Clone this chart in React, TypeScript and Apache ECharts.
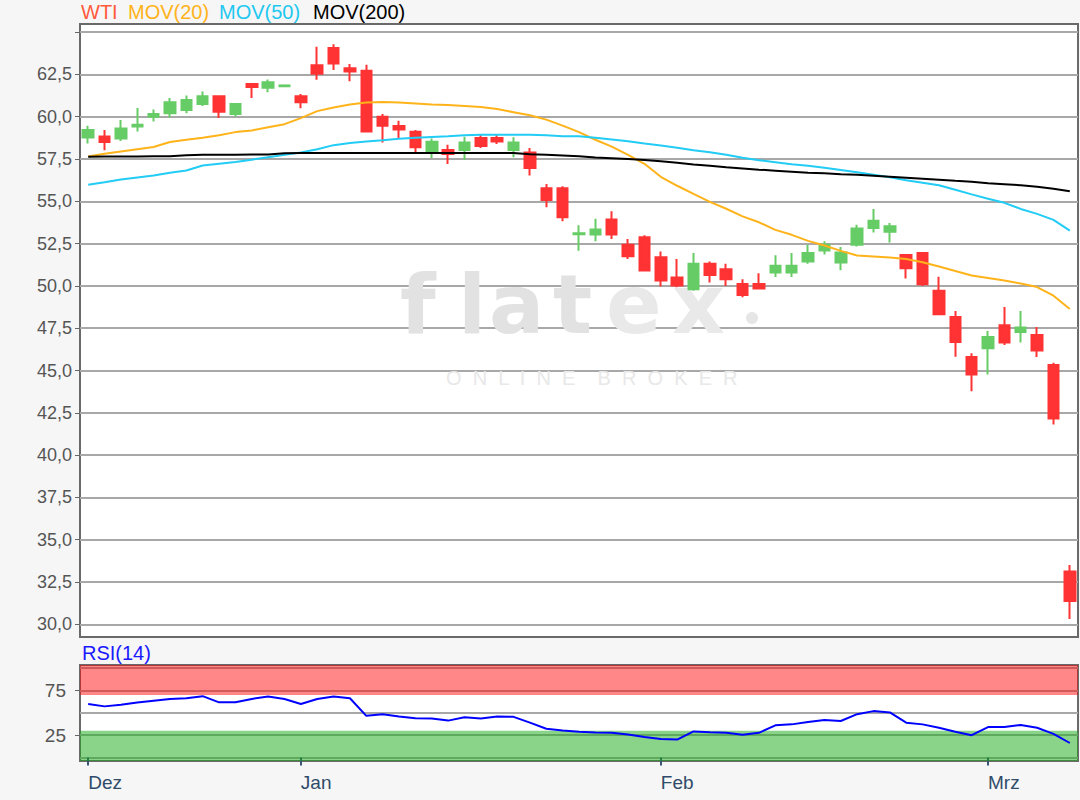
import React, { useEffect, useRef } from "react";
import * as echarts from "echarts";

// ---- categories (trading days) ----
const dates = [
  "16.12.", "17.12.", "18.12.", "19.12.", "20.12.", "23.12.", "24.12.", "25.12.", "26.12.", "27.12.", "30.12.", "31.12.",
  "01.01.", "02.01.", "03.01.", "06.01.", "07.01.", "08.01.", "09.01.", "10.01.", "13.01.", "14.01.", "15.01.", "16.01.",
  "17.01.", "20.01.", "21.01.", "22.01.", "23.01.", "24.01.", "27.01.", "28.01.", "29.01.", "30.01.", "31.01.",
  "03.02.", "04.02.", "05.02.", "06.02.", "07.02.", "10.02.", "11.02.", "12.02.", "13.02.", "14.02.", "17.02.", "18.02.",
  "19.02.", "20.02.", "21.02.", "24.02.", "25.02.", "26.02.", "27.02.", "28.02.",
  "02.03.", "03.03.", "04.03.", "05.03.", "06.03.", "09.03.",
];
const monthTickIndex = [0, 13, 35, 55];
const monthNames = ["Dez", "Jan", "Feb", "Mrz"];

// ---- WTI OHLC ----
const opens = [
  58.77, 58.83, 58.71, 59.42, 60.0, 60.2, 60.4, 60.75, 61.21, 60.16, 61.94, 61.71, 61.8, 61.21, 63.04, 64.06, 62.87, 62.72,
  60.0, 59.45, 59.11, 57.93, 58.03, 58.03, 58.74, 58.74, 58.03, 57.89, 55.77, 55.77, 53.05, 53.04, 53.93, 52.44, 52.88,
  51.69, 50.5, 49.8, 51.31, 50.99, 50.12, 50.12, 50.79, 50.79, 51.45, 52.1, 51.39, 52.43, 53.42, 53.2, 51.82, 51.94, 49.71,
  48.17, 45.8, 46.31, 47.67, 47.28, 47.1, 45.32, 33.12,
];
const closes = [
  59.21, 58.51, 59.31, 59.52, 60.16, 60.85, 60.99, 61.21, 60.3, 60.75, 61.75, 62.04, 61.85, 60.85, 62.54, 63.15, 62.68, 59.13,
  59.47, 59.25, 58.19, 58.52, 57.8, 58.48, 58.27, 58.54, 58.48, 56.97, 55.08, 54.06, 53.12, 53.33, 53.04, 51.75, 50.91,
  50.32, 50.02, 51.31, 50.65, 50.4, 49.46, 49.84, 51.19, 51.19, 51.94, 52.44, 51.98, 53.4, 53.85, 53.52, 51.05, 50.1, 48.33,
  46.69, 44.77, 46.98, 46.65, 47.54, 46.19, 42.16, 31.38,
];
const lows = [
  58.41, 58.02, 58.57, 59.13, 59.72, 59.96, 60.2, 60.63, 59.92, 60.0, 61.11, 61.45, 61.8, 60.5, 62.18, 62.76, 62.09, 59.13,
  58.48, 58.74, 57.89, 57.56, 57.2, 57.44, 58.15, 58.39, 57.6, 56.52, 54.65, 53.82, 52.08, 52.64, 52.78, 51.59, 50.91,
  49.96, 49.92, 49.72, 50.2, 50.0, 49.33, 49.84, 50.52, 50.52, 51.31, 51.85, 50.93, 52.33, 53.16, 52.57, 50.44, 50.0, 48.33,
  45.82, 43.78, 44.77, 46.51, 46.65, 45.8, 41.81, 30.32,
];
const highs = [
  59.46, 59.21, 59.8, 60.52, 60.42, 61.11, 61.25, 61.49, 61.21, 60.75, 61.94, 62.2, 61.85, 61.35, 64.13, 64.29, 63.11, 63.07,
  60.16, 59.76, 59.21, 58.72, 58.35, 58.82, 58.98, 58.98, 58.78, 58.15, 56.02, 55.89, 53.59, 53.97, 54.42, 52.78, 53.0,
  52.04, 51.59, 51.94, 51.45, 51.31, 50.4, 50.75, 51.81, 51.94, 52.44, 52.64, 52.3, 53.62, 54.55, 53.72, 51.82, 51.94, 50.54,
  48.52, 46.02, 47.34, 48.76, 48.52, 47.57, 45.46, 33.51,
];

// ---- moving averages ----
const mov20 = [
  57.65, 57.81, 57.95, 58.08, 58.21, 58.51, 58.64, 58.76, 58.9, 59.09, 59.19, 59.38, 59.56, 59.92, 60.33, 60.54, 60.72, 60.84,
  60.87, 60.84, 60.78, 60.72, 60.69, 60.63, 60.57, 60.45, 60.27, 60.09, 59.83, 59.47, 59.09, 58.64, 58.23, 57.75, 57.22,
  56.45, 55.92, 55.44, 54.97, 54.56, 54.11, 53.76, 53.31, 53.02, 52.66, 52.39, 52.07, 51.8, 51.74, 51.68, 51.59, 51.4, 51.15,
  50.88, 50.62, 50.47, 50.32, 50.14, 49.93, 49.42, 48.63,
];
const mov50 = [
  55.98, 56.13, 56.29, 56.41, 56.53, 56.69, 56.82, 57.12, 57.22, 57.32, 57.46, 57.61, 57.75, 57.88, 58.08, 58.32, 58.44, 58.54,
  58.61, 58.7, 58.75, 58.8, 58.85, 58.91, 58.93, 58.94, 58.94, 58.94, 58.91, 58.85, 58.85, 58.76, 58.66, 58.55, 58.42,
  58.3, 58.17, 58.02, 57.9, 57.75, 57.58, 57.43, 57.31, 57.19, 57.1, 56.98, 56.85, 56.72, 56.57, 56.42, 56.24, 56.1, 55.95,
  55.68, 55.41, 55.15, 54.91, 54.55, 54.26, 53.9, 53.27,
];
const mov200 = [
  57.64, 57.65, 57.65, 57.65, 57.66, 57.66, 57.72, 57.75, 57.75, 57.75, 57.76, 57.76, 57.84, 57.86, 57.86, 57.86, 57.86, 57.86,
  57.86, 57.86, 57.86, 57.86, 57.86, 57.86, 57.86, 57.86, 57.85, 57.78, 57.75, 57.71, 57.67, 57.59, 57.55, 57.5, 57.44,
  57.37, 57.28, 57.18, 57.1, 57.01, 56.94, 56.87, 56.81, 56.75, 56.69, 56.66, 56.6, 56.57, 56.51, 56.45, 56.39, 56.33, 56.27,
  56.21, 56.16, 56.07, 56.01, 55.95, 55.86, 55.74, 55.59,
];

// ---- RSI(14) ----
const rsi14 = [
  59.8, 57.2, 59.1, 61.4, 63.6, 65.5, 66.3, 68.6, 61.7, 61.7, 65.5, 68.2, 65.5, 59.8, 65.5, 68.2, 66.3, 46.6, 48.5, 45.8,
  43.9, 43.6, 41.3, 45.1, 43.6, 45.8, 45.5, 39.0, 32.2, 30.3, 28.8, 28.0, 27.7, 25.8, 23.1, 20.8, 20.1, 29.2, 28.4, 27.7,
  25.4, 27.7, 36.0, 37.1, 39.8, 42.0, 40.9, 48.5, 51.9, 50.4, 39.0, 37.1, 33.3, 28.8, 25.0, 34.1, 34.1, 36.4, 33.3, 26.5,
  16.3,
];

// ---- axis ticks ----
const priceGridValues = [30, 32.5, 35, 37.5, 40, 42.5, 45, 47.5, 50, 52.5, 55, 57.5, 60, 62.5, 65];
const priceLabelValues = [30, 32.5, 35, 37.5, 40, 42.5, 45, 47.5, 50, 52.5, 55, 57.5, 60, 62.5];
const PRICE_MIN = 29.25;
const PRICE_MAX = 65.48;
const rsiGridValues = [0, 25, 50, 75, 100];
const rsiLabelValues = [25, 75];
const RSI_MIN = -3.8;
const RSI_MAX = 103.4;
const RSI_OVERBOUGHT = 70;
const RSI_OVERSOLD = 30;

const FONT = '"Liberation Sans", Arial, Helvetica, sans-serif';
const WM_FONT = 'bold 82px "DejaVu Sans", sans-serif';

export default function App() {
  const ref = useRef<HTMLDivElement>(null);

  useEffect(() => {
    if (!ref.current) return;
    const chart = echarts.init(ref.current, undefined, { renderer: "svg" });
    const ohlc = dates.map((_, i) => [opens[i], closes[i], lows[i], highs[i]]);
    const fmt = (v: number) => v.toFixed(1).replace(".", ",");

    const wmLetter = (ch: string, x: number, fill: string) => ({
      type: "text",
      x,
      y: 345,
      z: 1,
      silent: true,
      style: { text: ch, fill, font: WM_FONT, textVerticalAlign: "bottom", verticalAlign: "bottom" },
    });

    const option: any = {
      animation: false,
      backgroundColor: "#f6f6f6",
      textStyle: { fontFamily: FONT },
      grid: [
        { left: 80, top: 24, width: 998, height: 613, show: true, backgroundColor: "#ffffff", borderColor: "#6a6a6a", borderWidth: 2 },
        { left: 80, top: 665, width: 998, height: 96, show: true, backgroundColor: "#ffffff", borderColor: "#6a6a6a", borderWidth: 2 },
      ],
      xAxis: [
        { type: "category", gridIndex: 0, data: dates, boundaryGap: true, show: false },
        {
          type: "category",
          gridIndex: 1,
          data: dates,
          boundaryGap: true,
          axisLine: { show: false },
          axisTick: {
            show: true,
            alignWithLabel: true,
            interval: (i: number) => monthTickIndex.includes(i),
            length: 8,
            lineStyle: { color: "#3a5575", width: 2 },
          },
          axisLabel: {
            interval: (i: number) => monthTickIndex.includes(i),
            formatter: (_v: string, i: number) => monthNames[monthTickIndex.indexOf(i)] ?? "",
            align: "left",
            margin: 12,
            fontSize: 19,
            color: "#2f4b6a",
            fontFamily: FONT,
          },
          splitLine: { show: false },
        },
      ],
      yAxis: [
        {
          type: "value",
          gridIndex: 0,
          min: PRICE_MIN,
          max: PRICE_MAX,
          axisLine: { show: false },
          axisTick: { show: true, customValues: priceGridValues, length: 5, lineStyle: { color: "#666", width: 1 } },
          axisLabel: { customValues: priceLabelValues, formatter: fmt, fontSize: 18, color: "#555", margin: 8, fontFamily: FONT },
          splitLine: { show: true, lineStyle: { color: "#a8a8a8", width: 2 } },
        },
        {
          type: "value",
          gridIndex: 1,
          min: RSI_MIN,
          max: RSI_MAX,
          position: "left",
          axisLine: { show: false },
          axisTick: { show: false, customValues: rsiGridValues },
          axisLabel: { show: false },
          splitLine: { show: true, lineStyle: { color: "#a8a8a8", width: 2 } },
        },
        {
          type: "value",
          gridIndex: 1,
          min: RSI_MIN,
          max: RSI_MAX,
          position: "left",
          offset: 0,
          axisLine: { show: false },
          axisTick: { show: true, customValues: rsiLabelValues, length: 5, lineStyle: { color: "#666", width: 1 } },
          axisLabel: { customValues: rsiLabelValues, fontSize: 19, color: "#555", margin: 14, fontFamily: FONT },
          splitLine: { show: false },
        },
      ],
      graphic: [
        wmLetter("f", 400, "#e2e2e2"),
        wmLetter("l", 458, "#e2e2e2"),
        wmLetter("a", 489, "#e2e2e2"),
        wmLetter("t", 553, "#e2e2e2"),
        wmLetter("e", 606, "#e9e9e9"),
        wmLetter("x", 672, "#e9e9e9"),
        { type: "circle", shape: { cx: 752, cy: 318, r: 6 }, z: 1, silent: true, style: { fill: "#e6e6e6" } },
        { type: "text", left: 446, top: 368, z: 1, silent: true, style: { text: "O  N  L  I  N  E    B  R  O  K  E  R", fill: "#e8e8e8", font: `20px ${FONT}` } },
        { type: "text", left: 81, top: 2, style: { text: "WTI", fill: "#ff5a3c", font: `20px ${FONT}` } },
        { type: "text", left: 128, top: 2, style: { text: "MOV(20)", fill: "#ffb31a", font: `20px ${FONT}` } },
        { type: "text", left: 219, top: 2, style: { text: "MOV(50)", fill: "#1ec8f0", font: `20px ${FONT}` } },
        { type: "text", left: 313, top: 2, style: { text: "MOV(200)", fill: "#000000", font: `20px ${FONT}` } },
        { type: "text", left: 82, top: 643, style: { text: "RSI(14)", fill: "#1a1aff", font: `20px ${FONT}` } },
      ],
      series: [
        {
          name: "WTI",
          type: "candlestick",
          xAxisIndex: 0,
          yAxisIndex: 0,
          data: ohlc,
          barWidth: 11,
          itemStyle: { color: "#66cc66", color0: "#ff3333", borderColor: "#66cc66", borderColor0: "#ff3333", borderWidth: 2 },
        },
        { name: "MOV(20)", type: "line", xAxisIndex: 0, yAxisIndex: 0, data: mov20, symbol: "none", lineStyle: { color: "#ffb31a", width: 2 } },
        { name: "MOV(50)", type: "line", xAxisIndex: 0, yAxisIndex: 0, data: mov50, symbol: "none", lineStyle: { color: "#22ccf5", width: 2 } },
        { name: "MOV(200)", type: "line", xAxisIndex: 0, yAxisIndex: 0, data: mov200, symbol: "none", lineStyle: { color: "#000000", width: 2 } },
        {
          name: "RSI(14)",
          type: "line",
          xAxisIndex: 1,
          yAxisIndex: 1,
          data: rsi14,
          symbol: "none",
          lineStyle: { color: "#0000ff", width: 2 },
          markArea: {
            silent: true,
            data: [
              [{ yAxis: RSI_OVERBOUGHT, itemStyle: { color: "rgba(255,0,0,0.47)" } }, { yAxis: RSI_MAX }],
              [{ yAxis: RSI_MIN, itemStyle: { color: "rgba(20,170,20,0.5)" } }, { yAxis: RSI_OVERSOLD }],
            ],
          },
        },
      ],
    };
    chart.setOption(option);
    return () => chart.dispose();
  }, []);

  return <div ref={ref} style={{ position: "fixed", left: 0, top: 0, width: 1080, height: 800 }} />;
}
